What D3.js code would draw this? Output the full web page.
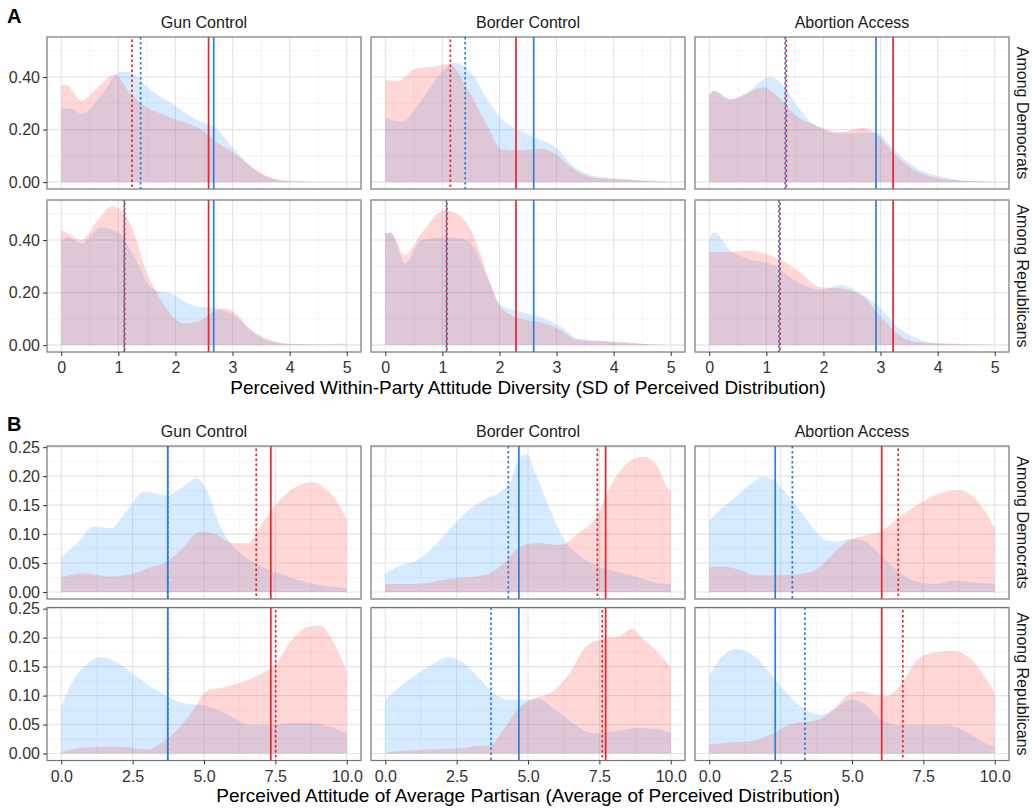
<!DOCTYPE html>
<html>
<head>
<meta charset="utf-8">
<script src="https://cdn.jsdelivr.net/npm/d3@7"></script>
<style>
  body { margin: 0; background: #fff; }
  text { font-family: "Liberation Sans", Arial, Helvetica, sans-serif; }
</style>
</head>
<body>
<script>
// facets
const issues = ['Gun Control', 'Border Control', 'Abortion Access'];
const groups = ['Among Democrats', 'Among Republicans'];

// A: density of perceived SD, [value, density]
const sdGunDemRed = [[0,.37],[.09,.37],[.35,.31],[.64,.36],[.93,.41],[1.2,.34],[1.4,.30],[1.86,.25],[2.45,.20],[2.74,.15],[3.03,.11],[3.32,.06],[3.6,.023],[3.9,.006],[4.3,.001],[5,0]];
const sdGunDemBlue = [[0,.28],[.15,.28],[.35,.26],[.7,.33],[1.05,.42],[1.17,.42],[1.57,.35],[1.86,.31],[2.45,.23],[2.68,.21],[3.03,.125],[3.32,.06],[3.6,.02],[4,.003],[5,0]];
const sdBorderDemRed = [[0,.39],[.22,.385],[.51,.43],[.86,.44],[1.12,.45],[1.45,.35],[1.8,.21],[2.03,.125],[2.32,.12],[2.73,.127],[2.96,.11],[3.3,.05],[3.66,.017],[4.24,.01],[4.7,.002],[5,0]];
const sdBorderDemBlue = [[0,.245],[.28,.23],[.63,.31],[.92,.40],[1.21,.455],[1.56,.40],[1.8,.31],[2.09,.23],[2.38,.195],[2.73,.16],[2.96,.137],[3.3,.06],[3.66,.023],[4.24,.01],[4.8,.003],[5,0]];
const sdAbortionDemRed = [[0,.33],[.08,.347],[.37,.315],[.95,.36],[1.25,.315],[1.54,.25],[1.83,.22],[2.3,.19],[2.7,.207],[2.94,.18],[3.23,.11],[3.58,.048],[4.17,.01],[4.8,.002],[5,0]];
const sdAbortionDemBlue = [[0,.334],[.08,.347],[.37,.315],[.66,.34],[1.07,.40],[1.3,.366],[1.54,.29],[1.83,.22],[2.3,.185],[2.7,.188],[2.94,.188],[3.23,.124],[3.58,.06],[4.17,.016],[4.7,.002],[5,0]];
const sdGunRepRed = [[0,.438],[.12,.425],[.35,.40],[.64,.476],[.9,.53],[1.1,.50],[1.28,.425],[1.46,.30],[1.75,.17],[2.16,.083],[2.45,.095],[2.8,.14],[3.03,.127],[3.26,.07],[3.6,.025],[3.9,.006],[4.4,.003],[4.78,.004],[4.95,.006],[5,.005]];
const sdGunRepBlue = [[0,.40],[.12,.41],[.35,.387],[.7,.448],[.99,.43],[1.28,.336],[1.57,.22],[1.98,.19],[2.33,.15],[2.68,.14],[3.03,.114],[3.32,.057],[3.6,.019],[4,.004],[5,0]];
const sdBorderRepRed = [[0,.425],[.1,.425],[.34,.343],[.63,.425],[1.04,.514],[1.33,.49],[1.56,.41],[1.8,.26],[2.03,.14],[2.38,.10],[2.79,.083],[3.08,.057],[3.37,.019],[3.95,.013],[4.24,.011],[4.65,.003],[5,0]];
const sdBorderRepBlue = [[0,.425],[.1,.43],[.34,.31],[.63,.40],[1.04,.41],[1.33,.406],[1.56,.37],[1.8,.25],[2.03,.152],[2.38,.127],[2.79,.10],[3.08,.07],[3.37,.025],[3.95,.013],[4.65,.002],[5,0]];
const sdAbortionRepRed = [[0,.355],[.37,.355],[.66,.36],[1.13,.336],[1.54,.286],[1.95,.22],[2.3,.216],[2.7,.184],[3.0,.108],[3.29,.044],[3.58,.013],[4.17,.006],[5,.002]];
const sdAbortionRepBlue = [[0,.406],[.08,.43],[.37,.36],[.66,.33],[1.13,.305],[1.54,.24],[1.95,.21],[2.3,.229],[2.7,.19],[3.0,.14],[3.29,.07],[3.58,.032],[3.99,.006],[5,0]];

// B: density of perceived average, [value, density]
const avgGunDemRed = [[0,.025],[.79,.032],[1.72,.027],[2.54,.032],[3.12,.043],[3.7,.052],[4.29,.078],[4.87,.104],[5.34,.101],[6.04,.084],[6.5,.084],[6.97,.113],[7.55,.153],[8.14,.179],[8.78,.19],[9.3,.176],[9.77,.147],[10,.124]];
const avgGunDemBlue = [[0,.061],[.56,.084],[1.14,.113],[1.72,.11],[2.31,.141],[2.89,.173],[3.36,.17],[3.7,.167],[4.17,.179],[4.76,.196],[5.1,.176],[5.57,.113],[6.04,.078],[6.62,.055],[7.2,.040],[7.79,.029],[8.37,.02],[8.95,.013],[9.53,.009],[10,.006]];
const avgBorderDemRed = [[0,.014],[1.1,.014],[2.28,.023],[3.44,.029],[4.14,.049],[4.73,.078],[5.31,.084],[6.13,.081],[6.83,.104],[7.41,.13],[7.88,.182],[8.46,.222],[9.04,.234],[9.51,.219],[9.86,.182],[10,.173]];
const avgBorderDemBlue = [[0,.032],[.53,.046],[1.1,.055],[1.69,.078],[2.28,.11],[2.86,.139],[3.44,.159],[4.03,.173],[4.38,.19],[4.73,.234],[4.96,.237],[5.31,.199],[5.78,.141],[6.24,.092],[6.83,.061],[7.53,.043],[8.11,.035],[8.81,.026],[9.39,.017],[10,.014]];
const avgAbortionDemRed = [[0,.043],[.49,.044],[1.07,.038],[1.65,.029],[2.47,.029],[3.29,.032],[3.87,.043],[4.45,.072],[5.03,.092],[5.5,.098],[6.08,.107],[6.67,.13],[7.37,.153],[8.07,.17],[8.76,.176],[9.23,.165],[9.7,.136],[10,.11]];
const avgAbortionDemBlue = [[0,.124],[.49,.147],[1.07,.17],[1.54,.19],[1.89,.199],[2.24,.193],[2.7,.17],[3.17,.141],[3.64,.11],[4.1,.089],[4.45,.087],[4.92,.092],[5.38,.089],[5.97,.066],[6.55,.038],[7.13,.02],[7.83,.014],[8.65,.02],[9.23,.017],[10,.014]];
const avgGunRepRed = [[0,.003],[.79,.010],[1.96,.012],[3.0,.007],[3.47,.017],[4.06,.041],[4.64,.076],[5.1,.108],[5.57,.113],[6.27,.122],[6.97,.137],[7.55,.157],[8.02,.192],[8.6,.218],[9.07,.221],[9.53,.192],[10,.142]];
const avgGunRepBlue = [[0,.081],[.44,.128],[.91,.154],[1.38,.166],[1.96,.157],[2.54,.137],[3.12,.116],[3.7,.099],[4.29,.087],[4.87,.084],[5.45,.076],[6.04,.061],[6.62,.049],[7.2,.049],[8.37,.053],[8.95,.052],[9.53,.044],[10,.035]];
const avgBorderRepRed = [[0,.002],[1.1,.006],[2.63,.009],[3.21,.013],[3.68,.014],[4.14,.041],[4.73,.081],[5.31,.096],[5.89,.108],[6.48,.14],[7.06,.186],[7.64,.198],[8.23,.203],[8.63,.215],[9.04,.198],[9.51,.177],[10,.148]];
const avgBorderRepBlue = [[0,.093],[.53,.116],[1.1,.137],[1.69,.154],[2.16,.166],[2.63,.16],[3.21,.134],[3.79,.105],[4.26,.093],[4.96,.093],[5.31,.096],[5.89,.078],[6.59,.052],[7.29,.035],[7.99,.038],[8.81,.044],[9.63,.041],[10,.035]];
const avgAbortionRepRed = [[0,.015],[.72,.019],[1.65,.023],[2.24,.035],[2.94,.052],[3.64,.056],[4.22,.07],[4.8,.099],[5.27,.108],[5.73,.102],[6.2,.099],[6.67,.116],[7.25,.16],[7.83,.174],[8.53,.177],[9.23,.16],[9.7,.128],[10,.105]];
const avgAbortionRepBlue = [[0,.134],[.37,.163],[.96,.181],[1.54,.169],[2.12,.14],[2.7,.105],[3.29,.078],[3.87,.067],[4.45,.078],[4.92,.093],[5.38,.087],[5.97,.061],[6.55,.049],[7.37,.049],[8.3,.049],[9.0,.038],[9.58,.02],[10,.012]];

// reference lines, one per issue
const sdTrueRed = [2.58, 2.29, 3.22];
const sdTrueBlue = [2.67, 2.60, 2.92];
const sdPercDemRed = [1.24, 1.14, 1.35];
const sdPercDemBlue = [1.39, 1.40, 1.33];
const sdPercRepRed = [1.11, 1.08, 1.24];
const sdPercRepBlue = [1.10, 1.07, 1.22];
const avgTrueRed = [7.34, 7.72, 6.04];
const avgTrueBlue = [3.73, 4.68, 2.31];
const avgPercDemRed = [6.83, 7.43, 6.62];
const avgPercDemBlue = [3.73, 4.31, 2.91];
const avgPercRepRed = [7.51, 7.60, 6.78];
const avgPercRepBlue = [3.73, 3.70, 3.35];

// tick labels
const sdTicksX = [0, 1, 2, 3, 4, 5];
const sdTicksY = [0, 0.2, 0.4];
const avgTicksX = [0, 2.5, 5, 7.5, 10];
const avgTicksY = [0, 0.05, 0.1, 0.15, 0.2, 0.25];

const RED = '#e6262b', BLUE = '#2a7fdc';
const W = 314;
const colX = [47, 371, 695];

const svg = d3.select('body').append('svg')
    .attr('width', 1033).attr('height', 808)
    .style('background', '#fff');

const sections = [
  {
    tag: 'A', tagY: 23, top: [37, 200], h: 152,
    x: d3.scaleLinear([-0.25, 5.25], [0, W]),
    y: d3.scaleLinear([-0.0263, 0.5526], [152, 0]),
    xTicks: sdTicksX, yTicks: sdTicksY,
    xFmt: d3.format('d'), yFmt: d3.format('.2f'),
    title: 'Perceived Within-Party Attitude Diversity (SD of Perceived Distribution)',
    titleY: 394, stripY: 28, tickLabY: 373,
    dens: [[[sdGunDemRed, sdGunDemBlue], [sdBorderDemRed, sdBorderDemBlue], [sdAbortionDemRed, sdAbortionDemBlue]],
           [[sdGunRepRed, sdGunRepBlue], [sdBorderRepRed, sdBorderRepBlue], [sdAbortionRepRed, sdAbortionRepBlue]]],
    trueRed: sdTrueRed, trueBlue: sdTrueBlue,
    percRed: [sdPercDemRed, sdPercRepRed], percBlue: [sdPercDemBlue, sdPercRepBlue]
  },
  {
    tag: 'B', tagY: 431, top: [446, 607.5], h: 153,
    x: d3.scaleLinear([-0.5, 10.5], [0, W]),
    y: d3.scaleLinear([-0.012, 0.252], [153, 0]),
    xTicks: avgTicksX, yTicks: avgTicksY,
    xFmt: d3.format('.1f'), yFmt: d3.format('.2f'),
    title: 'Perceived Attitude of Average Partisan (Average of Perceived Distribution)',
    titleY: 802, stripY: 437, tickLabY: 782,
    dens: [[[avgGunDemRed, avgGunDemBlue], [avgBorderDemRed, avgBorderDemBlue], [avgAbortionDemRed, avgAbortionDemBlue]],
           [[avgGunRepRed, avgGunRepBlue], [avgBorderRepRed, avgBorderRepBlue], [avgAbortionRepRed, avgAbortionRepBlue]]],
    trueRed: avgTrueRed, trueBlue: avgTrueBlue,
    percRed: [avgPercDemRed, avgPercRepRed], percBlue: [avgPercDemBlue, avgPercRepBlue]
  }
];

function minors(ticks, scale) {
  const step = ticks[1] - ticks[0];
  const [lo, hi] = scale.domain();
  const out = [];
  for (let i = -1; i < ticks.length; i++) {
    const m = (i < 0 ? ticks[0] - step : ticks[i]) + step / 2;
    if (m > lo && m < hi) out.push(m);
  }
  return out;
}

sections.forEach(sec => {
  const x = sec.x, y = sec.y, h = sec.h;
  const area = d3.area()
      .x(d => x(d[0])).y0(y(0)).y1(d => y(d[1]))
      .curve(d3.curveMonotoneX);

  svg.append('text').attr('x', 7).attr('y', sec.tagY)
      .attr('font-size', 20).attr('font-weight', 'bold').attr('fill', '#000')
      .text(sec.tag);

  groups.forEach((grp, r) => {
    issues.forEach((iss, c) => {
      const g = svg.append('g').attr('transform', `translate(${colX[c]},${sec.top[r]})`);

      // grid
      g.selectAll('.vmin').data(minors(sec.xTicks, x)).join('line')
          .attr('x1', d => x(d)).attr('x2', d => x(d)).attr('y1', 0).attr('y2', h)
          .attr('stroke', '#f0f0f0').attr('stroke-width', 0.7);
      g.selectAll('.hmin').data(minors(sec.yTicks, y)).join('line')
          .attr('x1', 0).attr('x2', W).attr('y1', d => y(d)).attr('y2', d => y(d))
          .attr('stroke', '#f0f0f0').attr('stroke-width', 0.7);
      g.selectAll('.vmaj').data(sec.xTicks).join('line')
          .attr('x1', d => x(d)).attr('x2', d => x(d)).attr('y1', 0).attr('y2', h)
          .attr('stroke', '#e4e4e4').attr('stroke-width', 1.1);
      g.selectAll('.hmaj').data(sec.yTicks).join('line')
          .attr('x1', 0).attr('x2', W).attr('y1', d => y(d)).attr('y2', d => y(d))
          .attr('stroke', '#e4e4e4').attr('stroke-width', 1.1);

      // densities
      const [redPts, bluePts] = sec.dens[r][c];
      g.append('path').datum(bluePts).attr('d', area)
          .attr('fill', '#3399ff').attr('fill-opacity', 0.2);
      g.append('path').datum(redPts).attr('d', area)
          .attr('fill', '#ff3838').attr('fill-opacity', 0.2);

      // reference lines
      const vlines = [
        {v: sec.percBlue[r][c], color: BLUE, dash: '2.5,2.5', off: 0},
        {v: sec.percRed[r][c], color: RED, dash: '2.5,2.5', off: 2.5},
        {v: sec.trueRed[c], color: RED, dash: null},
        {v: sec.trueBlue[c], color: BLUE, dash: null}
      ];
      g.selectAll('.vl').data(vlines).join('line')
          .attr('x1', d => x(d.v)).attr('x2', d => x(d.v)).attr('y1', 0).attr('y2', h)
          .attr('stroke', d => d.color).attr('stroke-width', 1.7)
          .attr('stroke-dasharray', d => d.dash)
          .attr('stroke-dashoffset', d => d.off || 0);

      // border
      g.append('rect').attr('width', W).attr('height', h)
          .attr('fill', 'none').attr('stroke', '#777').attr('stroke-width', 1.2);

      if (c === 0) {
        const ax = g.append('g').call(d3.axisLeft(y).tickValues(sec.yTicks)
            .tickFormat(sec.yFmt).tickSize(4).tickPadding(3));
        ax.select('.domain').remove();
        ax.selectAll('line').attr('stroke', '#333');
        ax.selectAll('text').attr('font-size', 16).attr('fill', '#333')
            .style('font-family', '"Liberation Sans", Arial, sans-serif');
      }
      if (r === 1) {
        const ax = g.append('g').attr('transform', `translate(0,${h})`)
            .call(d3.axisBottom(x).tickValues(sec.xTicks)
            .tickFormat(sec.xFmt).tickSize(4).tickPadding(4));
        ax.select('.domain').remove();
        ax.selectAll('line').attr('stroke', '#333');
        ax.selectAll('text').attr('font-size', 16).attr('fill', '#333')
            .attr('dy', null).attr('y', sec.tickLabY - sec.top[r] - h)
            .style('font-family', '"Liberation Sans", Arial, sans-serif');
      }
      if (r === 0) {
        svg.append('text').attr('x', colX[c] + W / 2).attr('y', sec.stripY)
            .attr('text-anchor', 'middle').attr('font-size', 16).attr('fill', '#1a1a1a')
            .text(iss);
      }
      if (c === 2) {
        svg.append('text')
            .attr('transform', `translate(1017,${sec.top[r] + h / 2}) rotate(90)`)
            .attr('text-anchor', 'middle').attr('font-size', 16).attr('fill', '#1a1a1a')
            .text(grp);
      }
    });
  });

  svg.append('text').attr('x', (colX[0] + colX[2] + W) / 2).attr('y', sec.titleY)
      .attr('text-anchor', 'middle').attr('font-size', 19).attr('fill', '#000')
      .text(sec.title);
});
</script>
</body>
</html>
